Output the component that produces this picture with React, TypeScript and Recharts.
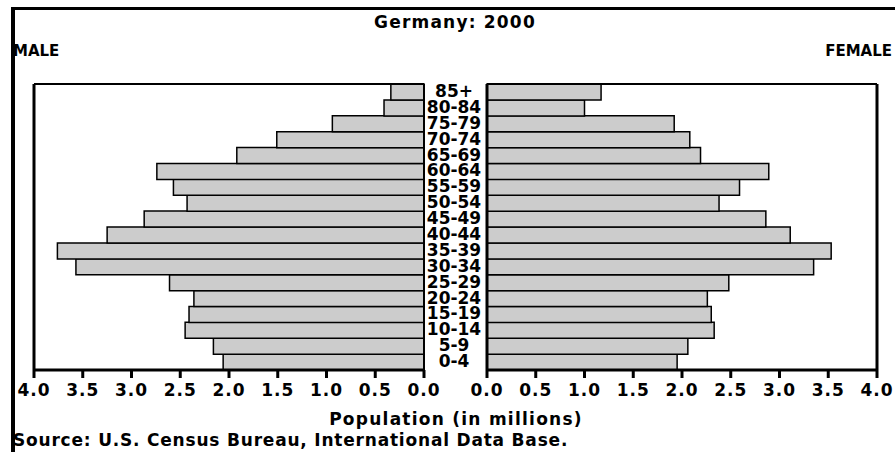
import { BarChart, Bar, XAxis, YAxis } from "recharts";

const ages = [
  "0-4", "5-9", "10-14", "15-19", "20-24", "25-29", "30-34", "35-39", "40-44",
  "45-49", "50-54", "55-59", "60-64", "65-69", "70-74", "75-79", "80-84", "85+",
];
const male = [
  2.06, 2.16, 2.45, 2.41, 2.36, 2.61, 3.57, 3.76, 3.25,
  2.87, 2.43, 2.57, 2.74, 1.92, 1.51, 0.94, 0.41, 0.34,
];
const female = [
  1.95, 2.06, 2.33, 2.3, 2.26, 2.48, 3.35, 3.53, 3.11,
  2.86, 2.38, 2.59, 2.89, 2.19, 2.08, 1.92, 1.0, 1.17,
];
const ticks = [0, 0.5, 1, 1.5, 2, 2.5, 3, 3.5, 4];

const rows = ages.map((age, i) => ({ age, male: male[i], female: female[i] }));

const FONT = "'DejaVu Sans', sans-serif";
const line = { stroke: "#000", strokeWidth: 3 };
const thin = { stroke: "#000", strokeWidth: 2 };

const NumTick = ({ x, y, payload }: any) => (
  <text
    x={x}
    y={y}
    dy="0.71em"
    textAnchor="middle"
    fill="#000"
    fontSize={17}
    fontWeight="bold"
    fontFamily={FONT}
    style={{ letterSpacing: "1px" }}
  >
    {Number(payload.value).toFixed(1)}
  </text>
);

const AgeTick = ({ y, payload }: any) => (
  <text
    x={30}
    y={y - 1}
    textAnchor="middle"
    dominantBaseline="central"
    fill="#000"
    fontSize={17}
    fontWeight="bold"
    fontFamily={FONT}
  >
    {payload.value}
  </text>
);

export default function App() {
  return (
    <div
      style={{
        position: "absolute",
        left: 0,
        top: 0,
        width: 895,
        height: 452,
        overflow: "hidden",
        background: "#fff",
        fontFamily: FONT,
      }}
    >
      <div
        style={{
          position: "absolute",
          left: 11,
          top: 7,
          width: 900,
          height: 460,
          borderTop: "3px solid #000",
          borderLeft: "4px solid #000",
        }}
      />

      {/* male side */}
      <div style={{ position: "absolute", left: 0, top: 70 }}>
        <BarChart
          layout="vertical"
          width={450}
          height={330}
          data={rows}
          margin={{ top: 13, right: 25, left: 33, bottom: 0 }}
          barCategoryGap={0}
        >
          <XAxis
            xAxisId="b"
            type="number"
            domain={[0, 4]}
            reversed
            ticks={ticks}
            interval={0}
            height={30}
            tickSize={8}
            tickMargin={6}
            axisLine={line}
            tickLine={line}
            tick={<NumTick />}
          />
          <XAxis
            xAxisId="t"
            orientation="top"
            type="number"
            domain={[0, 4]}
            reversed
            height={1}
            tick={false}
            tickLine={false}
            axisLine={thin}
          />
          <YAxis
            yAxisId="l"
            type="category"
            dataKey="age"
            reversed
            width={1}
            tick={false}
            tickLine={false}
            axisLine={line}
          />
          <YAxis
            yAxisId="r"
            orientation="right"
            type="category"
            dataKey="age"
            reversed
            width={1}
            tick={false}
            tickLine={false}
            axisLine={thin}
          />
          <Bar
            xAxisId="b"
            yAxisId="l"
            dataKey="male"
            fill="#cccccc"
            stroke="#000"
            strokeWidth={1.5}
            isAnimationActive={false}
          />
        </BarChart>
      </div>

      {/* female side */}
      <div style={{ position: "absolute", left: 424, top: 70 }}>
        <BarChart
          layout="vertical"
          width={471}
          height={330}
          data={rows}
          margin={{ top: 13, right: 17, left: 0, bottom: 0 }}
          barCategoryGap={0}
        >
          <XAxis
            xAxisId="b"
            type="number"
            domain={[0, 4]}
            ticks={ticks}
            interval={0}
            height={30}
            tickSize={8}
            tickMargin={6}
            axisLine={line}
            tickLine={line}
            tick={<NumTick />}
          />
          <XAxis
            xAxisId="t"
            orientation="top"
            type="number"
            domain={[0, 4]}
            height={1}
            tick={false}
            tickLine={false}
            axisLine={thin}
          />
          <YAxis
            yAxisId="l"
            type="category"
            dataKey="age"
            reversed
            width={63}
            tickLine={false}
            axisLine={line}
            interval={0}
            tick={<AgeTick />}
          />
          <YAxis
            yAxisId="r"
            orientation="right"
            type="category"
            dataKey="age"
            reversed
            width={1}
            tick={false}
            tickLine={false}
            axisLine={line}
          />
          <Bar
            xAxisId="b"
            yAxisId="l"
            dataKey="female"
            fill="#cccccc"
            stroke="#000"
            strokeWidth={1.5}
            isAnimationActive={false}
          />
        </BarChart>
      </div>

      <svg
        width={895}
        height={452}
        style={{ position: "absolute", left: 0, top: 0, pointerEvents: "none" }}
        fontFamily={FONT}
        fontWeight="bold"
        fill="#000"
      >
        <text x={455} y={28} textAnchor="middle" fontSize={17} style={{ letterSpacing: "1.2px" }}>
          Germany: 2000
        </text>
        <text x={13} y={56} fontSize={15}>
          MALE
        </text>
        <text x={892} y={56} textAnchor="end" fontSize={15}>
          FEMALE
        </text>
        <text x={456} y={425} textAnchor="middle" fontSize={17} style={{ letterSpacing: "1.25px" }}>
          Population (in millions)
        </text>
        <text x={13} y={446} fontSize={17} style={{ letterSpacing: "0.8px" }}>
          Source: U.S. Census Bureau, International Data Base.
        </text>
      </svg>
    </div>
  );
}
